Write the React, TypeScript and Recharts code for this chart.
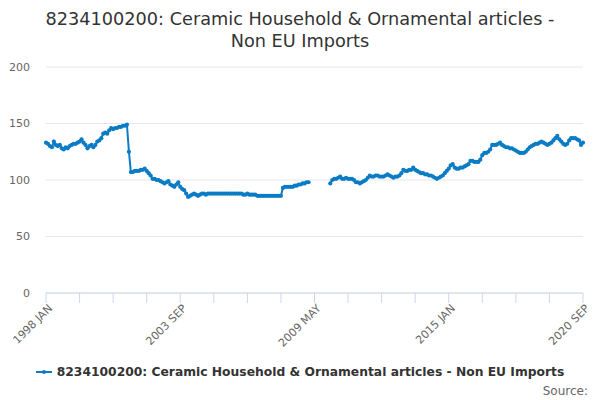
import React from 'react';
import { LineChart, Line, XAxis, YAxis, CartesianGrid } from 'recharts';

const MONTHS = ['JAN', 'FEB', 'MAR', 'APR', 'MAY', 'JUN', 'JUL', 'AUG', 'SEP', 'OCT', 'NOV', 'DEC'];
const START_YEAR = 1998;

const values: (number | null)[] = [
  133, 132, 130, 129, 134, 131, 130, 131, 128, 127,
  129, 128, 130, 131, 132, 132, 133, 134, 136, 133,
  131, 128, 130, 131, 129, 131, 134, 135, 137, 141,
  142, 141, 144, 146, 145, 146, 146, 147, 147, 148,
  148, 149, 125, 107, 107, 108, 108, 108, 109, 109,
  110, 108, 106, 104, 101, 101, 100, 100, 99, 98,
  97, 98, 99, 96, 95, 94, 96, 98, 94, 92,
  91, 88, 85, 86, 87, 88, 87, 86, 87, 88,
  88, 87, 88, 88, 88, 88, 88, 88, 88, 88,
  88, 88, 88, 88, 88, 88, 88, 88, 88, 88,
  87, 87, 88, 87, 87, 87, 87, 86, 86, 86,
  86, 86, 86, 86, 86, 86, 86, 86, 86, 86,
  93, 94, 94, 94, 94, 94, 95, 95, 96, 96,
  97, 97, 98, 98, null, null, null, null, null, null,
  null, null, null, null, 97, 100, 101, 101, 102, 103,
  101, 101, 102, 101, 101, 101, 100, 98, 98, 97,
  98, 99, 100, 102, 104, 103, 103, 104, 104, 103,
  103, 103, 104, 105, 104, 103, 102, 103, 103, 104,
  106, 109, 108, 108, 109, 109, 111, 109, 108, 107,
  106, 106, 105, 105, 104, 104, 103, 102, 101, 102,
  103, 104, 106, 108, 110, 113, 114, 111, 110, 110,
  111, 111, 112, 113, 114, 117, 117, 116, 116, 116,
  118, 122, 124, 124, 125, 127, 131, 131, 131, 132,
  133, 131, 130, 129, 129, 128, 128, 127, 126, 125,
  124, 124, 124, 125, 127, 129, 130, 131, 132, 132,
  133, 134, 133, 132, 131, 132, 133, 135, 137, 139,
  136, 134, 132, 131, 132, 135, 137, 137, 137, 136,
  135, 131, 133,
];

const categories: string[] = values.map(
  (_, i) => `${START_YEAR + Math.floor(i / 12)} ${MONTHS[i % 12]}`
);

const labelledTicks = ['1998 JAN', '2003 SEP', '2009 MAY', '2015 JAN', '2020 SEP'];
const yTicks = [0, 50, 100, 150, 200];
const TICK_STEP = 17;

const SERIES_NAME = '8234100200: Ceramic Household & Ornamental articles - Non EU Imports';
const COLOR = '#0a7cc5';
const FONT = '"DejaVu Sans", sans-serif';

const data = values.map((v, i) => ({ idx: i, label: categories[i], value: v }));
const xTicks = categories.map((_, i) => i).filter((i) => i % TICK_STEP === 0);

const XTick = (props: any) => {
  const { x, y, payload } = props;
  const label = categories[payload.value];
  if (!labelledTicks.includes(label)) return null;
  return (
    <g transform={`translate(${x + 7},${y + 4})`}>
      <text
        x={0}
        y={0}
        textAnchor="end"
        transform="rotate(-45)"
        fill="#666666"
        fontSize={11}
        fontFamily={FONT}
      >
        {label}
      </text>
    </g>
  );
};

export default function App() {
  return (
    <div style={{ position: 'absolute', left: 0, top: 0, width: 600, height: 400, background: '#fff', fontFamily: FONT }}>
      <div
        style={{
          position: 'absolute',
          left: 0,
          top: 8,
          width: 600,
          textAlign: 'center',
          fontSize: 17.7,
          lineHeight: '22px',
          color: '#333333',
        }}
      >
        8234100200: Ceramic Household &amp; Ornamental articles -<br />Non EU Imports
      </div>
      <LineChart
        width={600}
        height={400}
        data={data}
        margin={{ top: 67, right: 17, left: 0, bottom: 0 }}
      >
        <CartesianGrid horizontal vertical={false} stroke="#e6e6e6" />
        <XAxis
          dataKey="idx"
          type="number"
          domain={[0, values.length - 1]}
          ticks={xTicks}
          interval={0}
          height={107}
          tickSize={10}
          tickLine={{ stroke: '#ccd6eb' }}
          axisLine={{ stroke: '#ccd6eb' }}
          tick={<XTick />}
        />
        <YAxis
          domain={[0, 200]}
          ticks={yTicks}
          width={46}
          axisLine={false}
          tickLine={false}
          tickSize={6}
          tickMargin={10}
          tick={{ fill: '#666666', fontSize: 11, fontFamily: FONT }}
        />
        <Line
          type="linear"
          dataKey="value"
          stroke={COLOR}
          strokeWidth={2}
          dot={{ r: 2.1, fill: COLOR, stroke: 'none' }}
          activeDot={false}
          connectNulls={false}
          isAnimationActive={false}
        />
      </LineChart>
      <div
        style={{
          position: 'absolute',
          left: 0,
          top: 365,
          width: 600,
          display: 'flex',
          justifyContent: 'center',
          alignItems: 'center',
        }}
      >
        <svg width={16} height={12} style={{ marginRight: 5 }}>
          <line x1={0} y1={6} x2={16} y2={6} stroke={COLOR} strokeWidth={2} />
          <circle cx={8} cy={6} r={2} fill={COLOR} />
        </svg>
        <span style={{ fontSize: 12.3, fontWeight: 'bold', color: '#333333' }}>{SERIES_NAME}</span>
      </div>
      <div
        style={{
          position: 'absolute',
          right: 12,
          top: 384,
          fontSize: 12,
          color: '#666666',
        }}
      >
        Source:
      </div>
    </div>
  );
}
